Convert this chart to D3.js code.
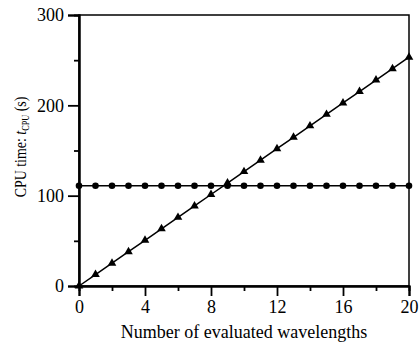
<!DOCTYPE html>
<html>
<head>
<meta charset="utf-8">
<script src="https://cdn.jsdelivr.net/npm/d3@7"></script>
<style>
  body { margin: 0; background: #fff; }
  svg text { font-family: "Liberation Serif", "Tinos", "Times New Roman", "DejaVu Serif", serif; fill: #000; }
</style>
</head>
<body>
<div id="chart"></div>
<script>
// data
const wavelengths = [0,1,2,3,4,5,6,7,8,9,10,11,12,13,14,15,16,17,18,19,20];
const timeSweep = [0,12.7,25.3,38,50.6,63.3,76,88.6,101.3,114,126.6,139.3,152,164.6,177.3,190,202.6,215.3,228,240.6,253.3];
const timeFixed = [111,111,111,111,111,111,111,111,111,111,111,111,111,111,111,111,111,111,111,111,111];
const xTicks = [0,4,8,12,16,20];
const xMinor = [2,6,10,14,18];
const yTicks = [0,100,200,300];
const yMinor = [50,150,250];

const serif = "'Liberation Serif', 'Times New Roman', 'DejaVu Serif', serif";

const W = 420, H = 345;
const margin = {top: 15, right: 11, bottom: 59, left: 79},
    width = W - margin.left - margin.right,
    height = H - margin.top - margin.bottom;

const svg = d3.select("#chart").append("svg")
    .attr("width", W)
    .attr("height", H)
    .attr("font-family", serif);

const g = svg.append("g")
    .attr("transform", "translate(" + margin.left + "," + margin.top + ")");

const x = d3.scaleLinear().domain([0, 20]).range([0, width]),
    y = d3.scaleLinear().domain([0, 300]).range([height, 0]);

// frame
g.append("rect")
    .attr("width", width).attr("height", height)
    .attr("fill", "none").attr("stroke", "#000").attr("stroke-width", 1.5);

// axes
g.append("g")
    .attr("transform", "translate(0," + height + ")")
    .call(d3.axisBottom(x).tickValues(xTicks).tickSize(10).tickPadding(4));
g.append("g")
    .attr("transform", "translate(0," + height + ")")
    .call(d3.axisBottom(x).tickValues(xMinor).tickSize(5).tickFormat(""));
g.append("g")
    .call(d3.axisLeft(y).tickValues(yTicks).tickSize(11).tickPadding(4));
g.append("g")
    .call(d3.axisLeft(y).tickValues(yMinor).tickSize(5).tickFormat(""));

g.selectAll(".domain").attr("stroke", "#000").attr("stroke-width", 2);
g.selectAll(".tick line").attr("stroke", "#000").attr("stroke-width", 1.8);
g.selectAll("g").attr("font-family", serif).attr("font-size", 18);
g.selectAll(".tick text").attr("fill", "#000");

// lines
const line = d3.line().x(d => x(d[0])).y(d => y(d[1]));
const sweep = wavelengths.map((w, i) => [w, timeSweep[i]]);
const fixed = wavelengths.map((w, i) => [w, timeFixed[i]]);

g.append("path").datum(fixed)
    .attr("d", line).attr("fill", "none").attr("stroke", "#000").attr("stroke-width", 1.5);
g.append("path").datum(sweep)
    .attr("d", line).attr("fill", "none").attr("stroke", "#000").attr("stroke-width", 1.5);

g.selectAll(".circ").data(fixed).enter().append("circle")
    .attr("class", "circ")
    .attr("cx", d => x(d[0])).attr("cy", d => y(d[1]))
    .attr("r", 3.3).attr("fill", "#000");

const tri = d3.symbol().type(d3.symbolTriangle).size(32);
g.selectAll(".tri").data(sweep).enter().append("path")
    .attr("class", "tri")
    .attr("d", tri)
    .attr("transform", d => "translate(" + x(d[0]) + "," + y(d[1]) + ")")
    .attr("fill", "#000");

// axis titles
svg.append("text")
    .attr("x", margin.left + width / 2)
    .attr("y", 338)
    .attr("text-anchor", "middle")
    .attr("font-size", 18)
    .text("Number of evaluated wavelengths");

// the original is stretched sideways, so the upright title runs short
const yl = svg.append("text")
    .attr("transform", "translate(26,147) rotate(-90) scale(0.82,1)")
    .attr("text-anchor", "middle")
    .attr("font-size", 17);
yl.append("tspan").text("CPU time: ");
yl.append("tspan").attr("font-style", "italic").text("t");
yl.append("tspan").attr("dy", 3).attr("font-size", 10).text("CPU");
yl.append("tspan").attr("dy", -3).text(" (s)");
</script>
</body>
</html>
